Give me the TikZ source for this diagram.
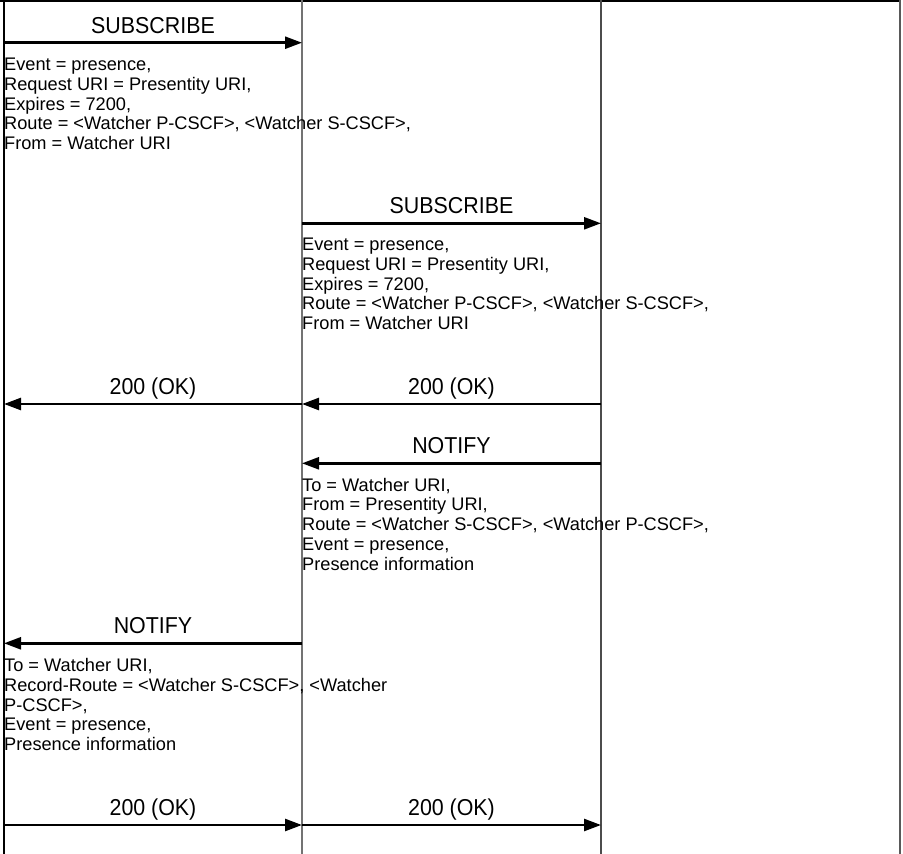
\documentclass[tikz,border=0pt]{standalone}
\usepackage{fontspec}
\setmainfont{Liberation Sans}
\newfontfamily\lblfont[FakeStretch=0.93]{Liberation Sans}
\usetikzlibrary{arrows.meta}
\begin{document}
\begin{tikzpicture}[x=1pt,y=-1pt,
  msg/.style={line width=2.5pt,-{Triangle[length=17pt,width=12pt]}},
  life/.style={line width=1.2pt,draw=black!55},
  lbl/.style={font=\lblfont\fontsize{23}{25}\selectfont,anchor=base,inner sep=0pt},
  info/.style={font=\fontsize{18.2}{19.8}\selectfont,anchor=base west,inner sep=0pt}]
\useasboundingbox (0,0) rectangle (903,854);
% lifelines
\coordinate (A0) at (4,0);   \coordinate (A1) at (4,854);
\coordinate (B0) at (302,0); \coordinate (B1) at (302,854);
\coordinate (C0) at (601,0); \coordinate (C1) at (601,854);
\coordinate (D0) at (900,0); \coordinate (D1) at (900,854);
\coordinate (T0) at (0,1);   \coordinate (T1) at (900,1);
\draw[line width=2pt] (T0) -- (T1);
\draw[line width=1.6pt] (A0) -- (A1);
\draw[life] (B0) -- (B1);
\draw[life,draw=black!70] (C0) -- (C1);
\draw[line width=1.6pt,draw=black!65] (D0) -- (D1);
% message 1
\coordinate (m1a) at (4,42.7); \coordinate (m1b) at (302,42.7);
\draw[msg] (m1a) -- (m1b);
\node[lbl] (l1) at (153,33.3) {SUBSCRIBE};
\node[info] (i1) at (4,70.5) {\begin{tabular}[t]{@{}l@{}}Event = presence,\\Request URI = Presentity URI,\\Expires = 7200,\\Route = <Watcher P-CSCF>, <Watcher S-CSCF>,\\From = Watcher URI\end{tabular}};
% message 2
\coordinate (m2a) at (302,223.3); \coordinate (m2b) at (601,223.3);
\draw[msg] (m2a) -- (m2b);
\node[lbl] (l2) at (451.5,213.3) {SUBSCRIBE};
\node[info] (i2) at (302,250.5) {\begin{tabular}[t]{@{}l@{}}Event = presence,\\Request URI = Presentity URI,\\Expires = 7200,\\Route = <Watcher P-CSCF>, <Watcher S-CSCF>,\\From = Watcher URI\end{tabular}};
% 200 OK
\coordinate (m3a) at (302,404); \coordinate (m3b) at (4,404);
\draw[msg] (m3a) -- (m3b);
\node[lbl] (l3) at (153,394) {200 (OK)};
\coordinate (m4a) at (601,404); \coordinate (m4b) at (302,404);
\draw[msg] (m4a) -- (m4b);
\node[lbl] (l4) at (451.5,394) {200 (OK)};
% NOTIFY 1
\coordinate (m5a) at (601,463.3); \coordinate (m5b) at (302,463.3);
\draw[msg] (m5a) -- (m5b);
\node[lbl] (l5) at (451.5,453.3) {NOTIFY};
\node[info] (i5) at (302,491) {\begin{tabular}[t]{@{}l@{}}To = Watcher URI,\\From = Presentity URI,\\Route = <Watcher S-CSCF>, <Watcher P-CSCF>,\\Event = presence,\\Presence information\end{tabular}};
% NOTIFY 2
\coordinate (m6a) at (302,643.3); \coordinate (m6b) at (4,643.3);
\draw[msg] (m6a) -- (m6b);
\node[lbl] (l6) at (153,633.3) {NOTIFY};
\node[info] (i6) at (4,671.5) {\begin{tabular}[t]{@{}l@{}}To = Watcher URI,\\Record-Route = <Watcher S-CSCF>, <Watcher\\P-CSCF>,\\Event = presence,\\Presence information\end{tabular}};
% final 200 OK
\coordinate (m7a) at (4,825); \coordinate (m7b) at (302,825);
\draw[msg] (m7a) -- (m7b);
\node[lbl] (l7) at (153,815) {200 (OK)};
\coordinate (m8a) at (302,825); \coordinate (m8b) at (601,825);
\draw[msg] (m8a) -- (m8b);
\node[lbl] (l8) at (451.5,815) {200 (OK)};
\end{tikzpicture}
\end{document}
